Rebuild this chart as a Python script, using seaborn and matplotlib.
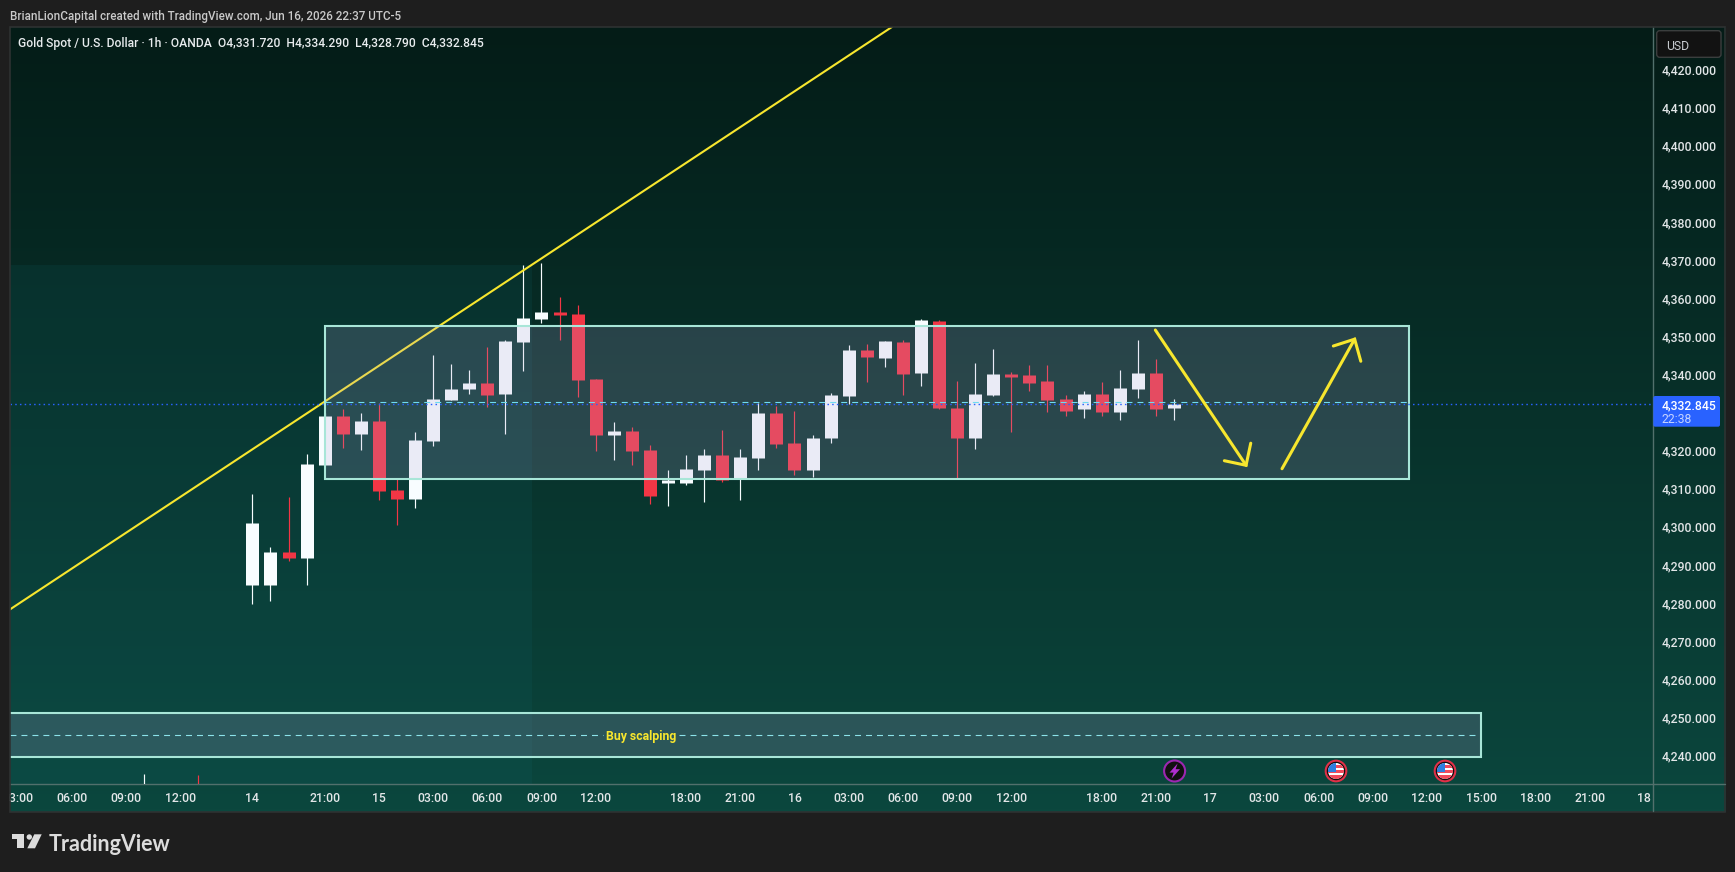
import numpy as np
import pandas as pd
import matplotlib.pyplot as plt
import seaborn as sns
from matplotlib.colors import LinearSegmentedColormap, to_rgba
from matplotlib.patches import Rectangle, Circle, Polygon, FancyBboxPatch
from matplotlib.transforms import ScaledTranslation

# hourly candles, bar number counted from the "14" label
bars = [-6, -3] + list(range(52))
opens = [4222.0, 4230.0,
         4285.39, 4285.39, 4294.05, 4292.47, 4316.87, 4329.73, 4325.01, 4328.42, 4310.31, 4307.95,
         4323.17, 4333.93, 4336.82, 4338.39, 4335.50, 4349.15, 4355.18, 4357.02, 4356.50, 4339.44,
         4324.75, 4325.80, 4320.81, 4312.15, 4312.15, 4315.56, 4319.50, 4313.20, 4318.71, 4330.52,
         4322.65, 4315.56, 4323.96, 4334.98, 4347.05, 4344.95, 4349.15, 4341.02, 4354.66, 4331.83,
         4323.96, 4335.24, 4340.75, 4340.49, 4338.92, 4334.19, 4331.57, 4335.50, 4330.78, 4336.82,
         4341.01, 4331.72]
closes = [4229.0, 4224.0,
          4301.66, 4294.05, 4292.47, 4317.14, 4329.73, 4325.01, 4328.42, 4310.05, 4307.95, 4323.43,
          4334.19, 4336.82, 4338.39, 4335.24, 4349.41, 4355.45, 4357.02, 4356.23, 4339.18, 4324.75,
          4325.80, 4320.55, 4308.74, 4312.94, 4315.83, 4319.50, 4312.94, 4318.98, 4330.52, 4322.39,
          4315.56, 4323.96, 4335.24, 4347.05, 4345.22, 4349.41, 4340.75, 4354.92, 4331.83, 4323.96,
          4335.51, 4340.75, 4339.97, 4338.39, 4333.93, 4331.04, 4335.50, 4330.78, 4337.08, 4341.01,
          4331.57, 4332.845]
highs = [4235.8, 4235.5,
         4309.26, 4295.36, 4308.48, 4319.76, 4330.50, 4331.57, 4330.52, 4333.06, 4313.20, 4325.53,
         4345.74, 4343.38, 4341.80, 4347.84, 4349.67, 4369.35, 4369.88, 4360.96, 4358.86, 4339.44,
         4328.16, 4326.85, 4322.12, 4315.56, 4319.50, 4321.07, 4326.06, 4321.07, 4333.14, 4332.36,
         4331.05, 4324.75, 4335.77, 4348.36, 4348.63, 4349.41, 4349.68, 4355.19, 4354.92, 4338.92,
         4343.64, 4347.31, 4341.28, 4343.11, 4343.11, 4335.24, 4336.29, 4338.65, 4341.80, 4349.67,
         4344.69, 4334.29]
lows = [4216.0, 4218.0,
        4280.40, 4281.19, 4291.69, 4285.39, 4316.80, 4321.33, 4320.81, 4307.69, 4301.13, 4305.59,
        4321.86, 4333.93, 4335.50, 4332.09, 4325.01, 4341.54, 4354.13, 4349.67, 4334.72, 4320.55,
        4318.19, 4316.88, 4306.64, 4306.12, 4311.63, 4307.17, 4312.42, 4307.69, 4315.56, 4321.34,
        4314.25, 4313.73, 4322.65, 4332.88, 4338.66, 4342.59, 4335.24, 4337.61, 4331.50, 4313.46,
        4321.07, 4334.98, 4325.53, 4336.29, 4330.78, 4329.73, 4329.21, 4329.73, 4328.68, 4334.45,
        4329.73, 4328.79]

# 4,330 sits under the last price tag in the reference, so it has no label
price_ticks = [4240, 4250, 4260, 4270, 4280, 4290, 4300, 4310, 4320, 4340, 4350, 4360,
               4370, 4380, 4390, 4400, 4410, 4420]
time_bars = [-13, -10, -7, -4, 0, 4, 7, 10, 13, 16, 19, 24, 27, 30, 33, 36, 39, 42, 47, 50, 53,
             56, 59, 62, 65, 68, 71, 74, 77]
time_labels = ["03:00", "06:00", "09:00", "12:00", "14", "21:00", "15", "03:00", "06:00", "09:00",
               "12:00", "18:00", "21:00", "16", "03:00", "06:00", "09:00", "12:00", "18:00", "21:00",
               "17", "03:00", "06:00", "09:00", "12:00", "15:00", "18:00", "21:00", "18"]

last_price = 4332.845
trend_bars = [-13.44, 35.39]
trend_prices = [4278.9, 4431.8]
range_box = (4, 64, 4313.2, 4353.35)
scalp_box = (-14, 68, 4240.35, 4251.74)
arrow_down = ([49.97, 54.99], [4352.3, 4316.8])
arrow_down_head = ([53.79, 54.99, 55.25], [4318.0, 4316.8, 4322.6])
arrow_up = ([56.98, 61.0], [4315.9, 4349.9])
arrow_up_head = ([59.82, 61.0, 61.34], [4348.1, 4349.9, 4344.1])

W, H = 1735, 872
BG = "#1e1e1e"
YELLOW = "#f7e62e"
BOX_EDGE = "#a8e6d8"
BOX_FILL = to_rgba("#b2a3d6", 0.2)
TEXT = "#e2e6e8"

sns.set_theme(style="dark")
plt.rcParams["font.family"] = ["Roboto", "DejaVu Sans"]
plt.rcParams["lines.scale_dashes"] = False


def px_rect(x0, y0, x1, y1):
    return [x0 / W, 1 - y1 / H, (x1 - x0) / W, (y1 - y0) / H]


fig = plt.figure(figsize=(W / 100, H / 100), dpi=100, facecolor=BG)

# gradient pane behind everything
bg_ax = fig.add_axes(px_rect(9.5, 27, 1725, 811.7), zorder=0)
pane_cmap = LinearSegmentedColormap.from_list("pane", ["#041c17", "#0b473e"])
bg_ax.imshow(np.linspace(0, 1, 256).reshape(-1, 1), aspect="auto", cmap=pane_cmap)
bg_ax.axis("off")

ax = fig.add_axes(px_rect(9.5, 27, 1653, 784), zorder=2)
ax.patch.set_alpha(0)

df = pd.DataFrame({"bar": bars, "open": opens, "close": closes, "high": highs, "low": lows})
df["direction"] = np.where(df["close"] >= df["open"], "up", "down")
wicks = df.melt(id_vars=["bar", "direction"], value_vars=["high", "low"], value_name="price")
bodies = df.melt(id_vars=["bar", "direction"], value_vars=["open", "close"], value_name="price")

palette = {"up": "#f8fdff", "down": "#f23645"}
sns.lineplot(data=wicks, x="bar", y="price", units="bar", estimator=None, hue="direction",
             palette=palette, linewidth=0.85, legend=False, sort=False, ax=ax, zorder=3,
             solid_capstyle="butt")
sns.lineplot(data=bodies, x="bar", y="price", units="bar", estimator=None, hue="direction",
             palette=palette, linewidth=9.36, legend=False, sort=False, ax=ax, zorder=3,
             solid_capstyle="butt")

ax.set_xlim(-13.44, 77.51)
ax.set_ylim(4233.18, 4431.8)
ax.set_xlabel("")
ax.set_ylabel("")

# session shading
ax.add_patch(Rectangle((-14, 4230), 29.46, 139.44, facecolor=to_rgba("#146e78", 0.12),
                       edgecolor="none", zorder=1))

ax.plot(trend_bars, trend_prices, color=YELLOW, lw=1.5, zorder=4, solid_capstyle="round")

# range boxes
for box in (range_box, scalp_box):
    x0, x1, y0, y1 = box
    ax.add_patch(Rectangle((x0, y0), x1 - x0, y1 - y0, facecolor=BOX_FILL, edgecolor=BOX_EDGE,
                           lw=1.5, zorder=5))
ax.plot([4, 64], [4333.33, 4333.33], color="#6fdcef", lw=0.8, ls=(0, (4.3, 3.6)), zorder=6)
ax.plot([-14, 19.4], [4246.0, 4246.0], color="#8ce3ea", lw=0.8, ls=(0, (4.3, 3.6)), zorder=6)
ax.plot([23.6, 67.7], [4246.0, 4246.0], color="#8ce3ea", lw=0.8, ls=(0, (4.3, 3.6)), zorder=6)
ax.text(21.53, 4246.0, "Buy scalping", color=YELLOW, fontsize=8.8, fontweight="bold",
        ha="center", va="center_baseline", zorder=7)

ax.axhline(last_price, color="#2962ff", lw=1.0, ls=(0, (1.1, 2.3)), zorder=6)

for line in (arrow_down, arrow_down_head, arrow_up, arrow_up_head):
    ax.plot(line[0], line[1], color=YELLOW, lw=2.2, zorder=8, solid_capstyle="round",
            solid_joinstyle="miter")

# axes labels
ax.yaxis.tick_right()
ax.set_yticks(price_ticks)
ax.set_yticklabels([f"{p:,.3f}" for p in price_ticks], fontweight="medium")
ax.set_xticks(time_bars)
ax.set_xticklabels(time_labels, fontweight="medium")
ax.tick_params(axis="y", length=0, pad=6.2, labelsize=8.8, labelcolor=TEXT)
ax.tick_params(axis="x", length=0, pad=5.6, labelsize=8.8, labelcolor=TEXT)
nudge_up = ScaledTranslation(0, 2.5 / 100, fig.dpi_scale_trans)
for lbl in ax.get_yticklabels():
    lbl.set_transform(lbl.get_transform() + nudge_up)
ax.grid(False)
for side in ("top", "left"):
    ax.spines[side].set_visible(False)
for side in ("right", "bottom"):
    ax.spines[side].set_color("#52706c")
    ax.spines[side].set_linewidth(1.0)

# window chrome in pixel coordinates
top = fig.add_axes([0, 0, 1, 1], zorder=3)
top.set_xlim(0, W)
top.set_ylim(H, 0)
top.axis("off")
top.patch.set_alpha(0)

top.add_patch(Rectangle((0, 784), 9, 30, facecolor=BG, edgecolor="none"))
top.add_patch(Rectangle((9.5, 27), 1715.5, 784.7, facecolor="none", edgecolor="#2e3232", lw=1.2))
top.plot([1653, 1653], [784, 811], color="#52706c", lw=1.0)
top.plot([1653, 1725], [784, 784], color="#52706c", lw=1.0)

top.text(9.6, 15, "BrianLionCapital created with TradingView.com, Jun 16, 2026 22:37 UTC-5",
         color="#c9c9c9", fontsize=8.38, fontweight="medium", va="center_baseline")
top.text(18, 41.7, "Gold Spot / U.S. Dollar · 1h · OANDA  O4,331.720  H4,334.290  L4,328.790  C4,332.845",
         color="#e8ecee", fontsize=8.77, fontweight="medium", va="center_baseline")

# currency button
top.add_patch(FancyBboxPatch((1656.7, 30.7), 64.3, 26.6, boxstyle="round,pad=0,rounding_size=3",
                             facecolor="#121212", edgecolor="#3b3e3e", lw=1.0))
top.text(1666, 44.5, "USD", color="#c8cbd0", fontsize=8.8, va="center_baseline")

# last price tag
top.add_patch(FancyBboxPatch((1653.3, 396), 66.7, 30.7, boxstyle="round,pad=0,rounding_size=2",
                             facecolor="#2962ff", edgecolor="none"))
top.text(1661.7, 404, "4,332.845", color="white", fontsize=8.8, fontweight="medium", va="center_baseline")
top.text(1661.7, 417.7, "22:38", color="#c5d3ff", fontsize=8.8, va="center_baseline")

# event markers under the candles
bolt = Circle((1174.6, 771), 10.5, facecolor="#111111", edgecolor="#9c27b0", lw=1.5)
top.add_patch(bolt)
top.add_patch(Polygon([(1177.6, 763.5), (1169.5, 772.6), (1173.6, 772.6), (1171.6, 778.5),
                       (1180, 769.2), (1175.6, 769.2)], closed=True, facecolor="#b02fd0",
                      edgecolor="none"))


def flag_icon(cx, cy):
    top.add_patch(Circle((cx, cy), 10.3, facecolor="#101010", edgecolor="#e03048", lw=1.5))
    disc = Circle((cx, cy), 8, facecolor="white", edgecolor="none")
    top.add_patch(disc)
    for sy, sh in ((-6.5, 3), (-1, 2.5), (4, 3.5)):
        stripe = Rectangle((cx - 9, cy + sy), 18, sh, facecolor="#f04a5c", edgecolor="none")
        top.add_patch(stripe)
        stripe.set_clip_path(disc)
    canton = Rectangle((cx - 9, cy - 9), 9, 9.5, facecolor="#2d7fe0", edgecolor="none")
    top.add_patch(canton)
    canton.set_clip_path(disc)


flag_icon(1336, 771)
flag_icon(1445, 771)

# logo
LOGO = "#dcdcdc"
top.add_patch(Polygon([(12.3, 834.3), (24, 834.3), (24, 848.3), (17.3, 848.3), (17.3, 839.3), (12.3, 839.3)],
                      closed=True, facecolor=LOGO, edgecolor="none"))
top.add_patch(Circle((29.3, 837), 2.7, facecolor=LOGO, edgecolor="none"))
top.add_patch(Polygon([(34.3, 834.3), (41.7, 834.3), (35, 848.3), (27.3, 848.3)], closed=True,
                      facecolor=LOGO, edgecolor="none"))
top.text(49, 842, "TradingView", color=LOGO, fontsize=15.5, family="Lato", fontweight="bold",
         va="center_baseline")

fig.savefig("out.png", dpi=100, facecolor=BG)
